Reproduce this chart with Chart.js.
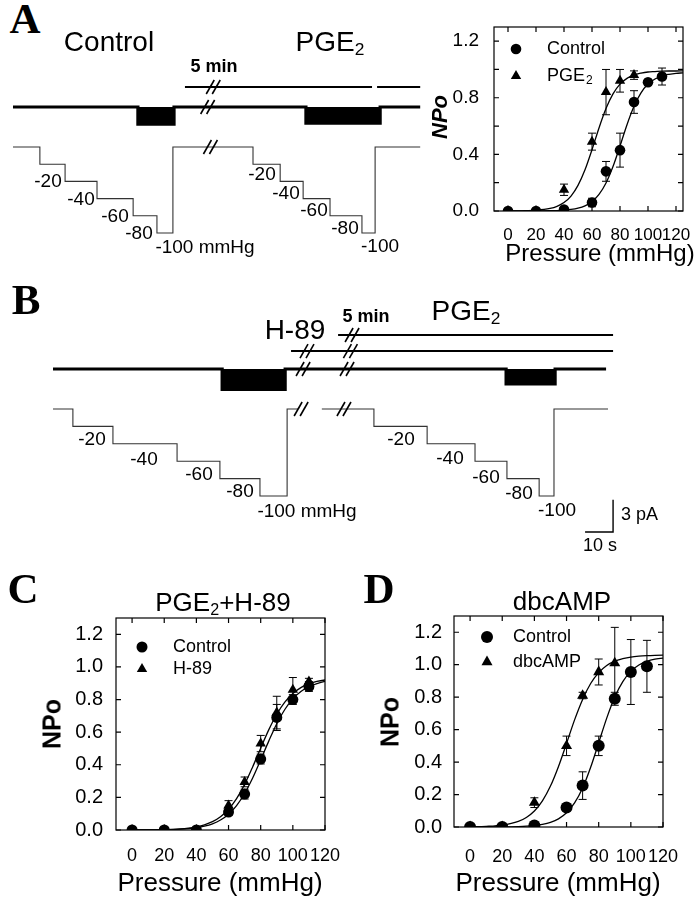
<!DOCTYPE html>
<html>
<head>
<meta charset="utf-8">
<script src="https://cdn.jsdelivr.net/npm/chart.js@4.4.1/dist/chart.umd.min.js"></script>
<style>
  html, body { margin: 0; padding: 0; background: #fff; }
  #fig { position: relative; width: 694px; height: 899px; overflow: hidden;
         font-family: 'Liberation Sans', Arial, sans-serif; color: #000; }
  canvas { position: absolute; }
  .t { position: absolute; white-space: nowrap; line-height: 1; transform: translate(-50%, -50%); }
  .t.left { transform: translate(0, -50%); }
  .t.rot { transform: translate(-50%, -50%) rotate(-90deg); }
  .letter { font-family: 'Liberation Serif', 'Times New Roman', serif; font-weight: bold; }
  sub { font-size: 0.62em; vertical-align: -0.25em; line-height: 0; }
</style>
</head>
<body>
<div id="fig">
  <canvas id="traceA" width="430" height="210" style="left:0;top:50px"></canvas>
  <canvas id="traceB" width="694" height="220" style="left:0;top:320px"></canvas>
  <canvas id="chartA" width="274" height="260" style="left:420px;top:20px"></canvas>
  <canvas id="chartC" width="350" height="339" style="left:0;top:560px"></canvas>
  <canvas id="chartD" width="344" height="339" style="left:350px;top:560px"></canvas>
</div>
<script>
// ---- NPo vs pressure data ----
const pressures = [0, 20, 40, 60, 70, 80, 90, 100, 110];
// points where the fitted curves were sampled
const fitPressures = [0, 10, 20, 30, 35, 40, 45, 50, 55, 60, 65, 70, 75, 80, 85, 90, 95, 100, 105, 110, 115, 120, 125];

// panel A: control vs PGE2
const aControl = [0, 0, 0.01, 0.06, 0.28, 0.43, 0.77, 0.91, 0.95];
const aControlErr = [0, 0, 0, 0.03, 0.07, 0.12, 0.08, 0.02, 0.06];
const aPge2 = [0, 0, 0.15, 0.49, 0.84, 0.92, 0.96];
const aPge2Err = [0, 0, 0.04, 0.06, 0.16, 0.08, 0.03];
const aControlFit = [0, 0.0001, 0.0005, 0.0017, 0.0031, 0.0058, 0.0108, 0.0199, 0.0366, 0.066, 0.117, 0.198, 0.314, 0.459, 0.610, 0.740, 0.835, 0.897, 0.933, 0.955, 0.966, 0.973, 0.976];
const aPge2Fit = [0.0004, 0.0015, 0.0052, 0.0178, 0.0328, 0.0595, 0.1057, 0.181, 0.291, 0.433, 0.587, 0.724, 0.827, 0.896, 0.937, 0.961, 0.974, 0.982, 0.985, 0.988, 0.989, 0.989, 0.990];

// panel C: control vs H-89
const cControl = [0, 0, 0, 0.11, 0.22, 0.435, 0.69, 0.80, 0.88];
const cControlErr = [0, 0, 0, 0.02, 0.03, 0.03, 0.08, 0.03, 0.03];
const cH89 = [0, 0, 0, 0.15, 0.295, 0.53, 0.72, 0.86, 0.91];
const cH89Err = [0, 0, 0, 0.03, 0.03, 0.05, 0.10, 0.075, 0.02];
const cControlFit = [0.0003, 0.0007, 0.002, 0.0054, 0.0088, 0.0144, 0.0235, 0.038, 0.0614, 0.097, 0.150, 0.224, 0.319, 0.430, 0.545, 0.652, 0.739, 0.804, 0.849, 0.879, 0.898, 0.911, 0.918];
const cH89Fit = [0.0004, 0.001, 0.0027, 0.0073, 0.0119, 0.0195, 0.0317, 0.0511, 0.0814, 0.127, 0.192, 0.280, 0.387, 0.502, 0.614, 0.710, 0.784, 0.837, 0.873, 0.897, 0.911, 0.920, 0.926];

// panel D: control vs dbcAMP
const dControl = [0, 0, 0.01, 0.12, 0.255, 0.50, 0.79, 0.955, 0.99];
const dControlErr = [0, 0, 0, 0.02, 0.085, 0.06, 0.04, 0.2, 0.16];
const dDbcamp = [0, 0, 0.15, 0.50, 0.81, 0.955, 1.01];
const dDbcampErr = [0, 0, 0.03, 0.06, 0.02, 0.08, 0.22];
const dControlFit = [0.0001, 0.0002, 0.0008, 0.0027, 0.0048, 0.0087, 0.0157, 0.028, 0.0498, 0.0875, 0.148, 0.240, 0.368, 0.519, 0.671, 0.801, 0.896, 0.959, 0.998, 1.021, 1.034, 1.041, 1.045];
const dDbcampFit = [0.0013, 0.0039, 0.0116, 0.0346, 0.0589, 0.0986, 0.161, 0.252, 0.373, 0.515, 0.660, 0.786, 0.884, 0.951, 0.995, 1.022, 1.037, 1.047, 1.0525, 1.0557, 1.0576, 1.0587, 1.0593];

// ---- single channel traces (time s, current pA, pressure mmHg) ----
const aPressTimes = [0, 9.6, 18.6, 30, 42.9, 51.4, 57.1, 85.7, 95.4, 103.6, 113.2, 124.6, 129.3, 145.4];
const aPressLevels = [0, -20, -40, -60, -80, -100, 0, -20, -40, -60, -80, -100, 0, 0];
const aCurTimes = [0, 44.6, 57.5, 104.6, 131.1, 145.4];
const aCurLevels = [0, -1.6, 0, -1.5, 0, 0];
const aPgeBar = [[61.4, 128.2], [130, 145.4]];
const aBarLevel = 1.87;
const aBreakTime = 70;

const bPressTimes1 = [0, 7.1, 21.4, 44.3, 59.6, 73.9, 83.6, 87.5];
const bPressTimes2 = [96, 114.6, 133.6, 150.7, 162.1, 173.6, 178.9, 198.2];
const bPressLevels = [0, -20, -40, -60, -80, -100, 0, 0];
const bCurTimes = [0, 60.4, 82.9, 161.8, 179.3, 197.5];
const bCurLevels = [0, -1.9, 0, -1.4, 0, 0];
const bH89Bar = [85, 200];
const bPgeBar = [101.8, 200];
const bH89Level = 1.68, bPgeLevel = 3.18;   // heights of drug bars above the trace
const scaleBarTimes = [190, 200, 200];
const scaleBarCurrents = [-15.23, -15.23, -12.23];

const pts = (xs, ys) => ys.map((y, i) => ({ x: xs[i], y: y }));

Chart.defaults.font.family = "'Liberation Sans', Arial, sans-serif";
Chart.defaults.color = '#000';

// ---- plugins ----
const frame = {
    id: 'frame',
    beforeDatasetsDraw(chart) {
        const { ctx, chartArea: a, scales: { x, y } } = chart;
        const len = 5;
        ctx.save();
        ctx.strokeStyle = '#000';
        ctx.lineWidth = 1.2;
        ctx.strokeRect(a.left, a.top, a.right - a.left, a.bottom - a.top);
        ctx.beginPath();
        x.ticks.forEach(t => {
            const px = x.getPixelForValue(t.value);
            ctx.moveTo(px, a.bottom); ctx.lineTo(px, a.bottom - len);
            ctx.moveTo(px, a.top); ctx.lineTo(px, a.top + len);
        });
        y.ticks.forEach(t => {
            const py = y.getPixelForValue(t.value);
            ctx.moveTo(a.left, py); ctx.lineTo(a.left + len, py);
            ctx.moveTo(a.right, py); ctx.lineTo(a.right - len, py);
        });
        ctx.stroke();
        ctx.restore();
    }
};

const errorBars = {
    id: 'errorBars',
    afterDatasetsDraw(chart) {
        const { ctx, scales: { x, y } } = chart;
        ctx.save();
        ctx.strokeStyle = '#000';
        ctx.lineWidth = 1;
        chart.data.datasets.forEach(ds => {
            if (!ds.errors) return;
            ds.data.forEach((p, i) => {
                const e = ds.errors[i];
                if (!e) return;
                const px = x.getPixelForValue(p.x);
                const top = y.getPixelForValue(p.y + e);
                const bot = y.getPixelForValue(p.y - e);
                ctx.beginPath();
                ctx.moveTo(px, top); ctx.lineTo(px, bot);
                ctx.moveTo(px - 4, top); ctx.lineTo(px + 4, top);
                ctx.moveTo(px - 4, bot); ctx.lineTo(px + 4, bot);
                ctx.stroke();
            });
        });
        ctx.restore();
    }
};

function drawMarker(ctx, style, r, x, y) {
    ctx.beginPath();
    if (style === 'triangle') {
        const edge = 3 * r / Math.sqrt(3);
        const h = edge * Math.sqrt(3) / 2;
        ctx.moveTo(x - edge / 2, y + h / 3);
        ctx.lineTo(x + edge / 2, y + h / 3);
        ctx.lineTo(x, y - 2 * h / 3);
        ctx.closePath();
    } else {
        ctx.arc(x, y, r, 0, Math.PI * 2);
    }
    ctx.fill();
}

const insideLegend = {
    id: 'insideLegend',
    afterDraw(chart, args, o) {
        const { ctx, chartArea: a } = chart;
        ctx.save();
        ctx.fillStyle = '#000';
        ctx.textBaseline = 'middle';
        chart.data.datasets.slice(0, 2).forEach((ds, i) => {
            const my = a.top + o.dy + i * o.gap;
            drawMarker(ctx, ds.pointStyle, ds.pointRadius, a.left + o.dx, my);
            ctx.font = "18px 'Liberation Sans', Arial, sans-serif";
            ctx.fillText(ds.label, a.left + o.tx, my);
            if (ds.labelSub) {
                const w = ctx.measureText(ds.label).width;
                ctx.font = "12px 'Liberation Sans', Arial, sans-serif";
                ctx.fillText(ds.labelSub, a.left + o.tx + w + 1, my + 5);
            }
        });
        ctx.restore();
    }
};

const breakMarks = {
    id: 'breakMarks',
    afterDatasetsDraw(chart, args, o) {
        const { ctx, scales } = chart;
        ctx.save();
        ctx.strokeStyle = '#000';
        ctx.lineWidth = 1.6;
        (o.marks || []).forEach(m => {
            const px = scales.x.getPixelForValue(m.t);
            const py = scales[m.axis].getPixelForValue(m.v);
            [-3, 3].forEach(off => {
                ctx.beginPath();
                ctx.moveTo(px + off - 4, py + 7);
                ctx.lineTo(px + off + 4, py - 7);
                ctx.stroke();
            });
        });
        ctx.restore();
    }
};

// ---- NPo charts ----
function npoChart(id, c) {
    const ctx = document.getElementById(id).getContext('2d');
    new Chart(ctx, {
        type: 'scatter',
        data: {
            datasets: [{
                label: 'Control',
                data: pts(pressures, c.ctrl),
                errors: c.ctrlErr,
                pointStyle: 'circle',
                pointRadius: c.r,
                backgroundColor: '#000',
                borderColor: '#000',
                borderWidth: 0,
                order: 0
            }, {
                label: c.treatName,
                labelSub: c.treatSub,
                data: pts(pressures, c.treat),
                errors: c.treatErr,
                pointStyle: 'triangle',
                pointRadius: c.tr,
                backgroundColor: '#000',
                borderColor: '#000',
                borderWidth: 0,
                order: 1
            }, {
                data: pts(fitPressures, c.ctrlFit),
                showLine: true,
                pointRadius: 0,
                borderColor: '#000',
                borderWidth: 1.3,
                cubicInterpolationMode: 'monotone',
                order: 2
            }, {
                data: pts(fitPressures, c.treatFit),
                showLine: true,
                pointRadius: 0,
                borderColor: '#000',
                borderWidth: 1.3,
                cubicInterpolationMode: 'monotone',
                order: 3
            }]
        },
        options: {
            responsive: false,
            devicePixelRatio: 1,
            animation: false,
            events: [],
            layout: { padding: { top: c.padTop, right: c.padRight, left: 0, bottom: 0 } },
            plugins: {
                legend: { display: false },
                tooltip: { enabled: false },
                insideLegend: c.legend
            },
            scales: {
                x: {
                    type: 'linear',
                    min: -10,
                    max: c.xMax,
                    grid: { display: false },
                    border: { display: false },
                    ticks: {
                        stepSize: 20,
                        autoSkip: false,
                        maxRotation: 0,
                        includeBounds: false,
                        padding: c.xPad,
                        font: { size: c.xFont }
                    },
                    afterFit(s) { s.height = c.xHeight; s.paddingLeft = 0; s.paddingRight = 0; }
                },
                y: {
                    type: 'linear',
                    min: 0,
                    max: 1.3,
                    grid: { display: false },
                    border: { display: false },
                    ticks: {
                        stepSize: 0.2,
                        includeBounds: false,
                        padding: c.yPad,
                        font: { size: c.yFont },
                        callback: v => (Math.round(v * 10) % c.labelEvery === 0 ? v.toFixed(1) : '')
                    },
                    afterFit(s) { s.width = c.yWidth; s.paddingTop = 0; s.paddingBottom = 0; }
                }
            }
        },
        plugins: [frame, errorBars, insideLegend]
    });
}

npoChart('chartA', {
    ctrl: aControl, ctrlErr: aControlErr, treat: aPge2, treatErr: aPge2Err,
    ctrlFit: aControlFit, treatFit: aPge2Fit, treatName: 'PGE', treatSub: '2',
    r: 5.3, tr: 6, xMax: 125, padTop: 7, padRight: 11, xHeight: 69, yWidth: 74,
    xPad: 6, yPad: 7, xFont: 17, yFont: 19, labelEvery: 4,
    legend: { dx: 22, dy: 22, gap: 27, tx: 53 }
});
npoChart('chartC', {
    ctrl: cControl, ctrlErr: cControlErr, treat: cH89, treatErr: cH89Err,
    ctrlFit: cControlFit, treatFit: cH89Fit, treatName: 'H-89',
    r: 5.5, tr: 6, xMax: 120, padTop: 58, padRight: 25, xHeight: 69, yWidth: 116,
    xPad: 7, yPad: 5, xFont: 18, yFont: 20, labelEvery: 2,
    legend: { dx: 26, dy: 29, gap: 22, tx: 57 }
});
npoChart('chartD', {
    ctrl: dControl, ctrlErr: dControlErr, treat: dDbcamp, treatErr: dDbcampErr,
    ctrlFit: dControlFit, treatFit: dDbcampFit, treatName: 'dbcAMP',
    r: 6, tr: 6.4, xMax: 120, padTop: 56, padRight: 31, xHeight: 72, yWidth: 104,
    xPad: 11, yPad: 4, xFont: 18, yFont: 20, labelEvery: 2,
    legend: { dx: 33, dy: 21, gap: 25, tx: 59 }
});

// ---- trace charts ----
function line(data, axis, width, extra) {
    return Object.assign({
        data: data, yAxisID: axis, showLine: true, pointRadius: 0,
        borderColor: '#000', borderWidth: width, fill: false
    }, extra || {});
}

function traceChart(id, datasets, s, marks) {
    new Chart(document.getElementById(id).getContext('2d'), {
        type: 'scatter',
        data: { datasets: datasets },
        options: {
            responsive: false,
            devicePixelRatio: 1,
            animation: false,
            events: [],
            layout: { padding: 0 },
            plugins: { legend: { display: false }, tooltip: { enabled: false }, breakMarks: { marks: marks } },
            scales: {
                x: { type: 'linear', display: false, min: s.x[0], max: s.x[1] },
                yI: { type: 'linear', axis: 'y', display: false, min: s.i[0], max: s.i[1] },
                yP: { type: 'linear', axis: 'y', display: false, min: s.p[0], max: s.p[1] }
            }
        },
        plugins: [breakMarks]
    });
}

traceChart('traceA', [
    line(aPgeBar[0].map(t => ({ x: t, y: aBarLevel })), 'yI', 2),
    line(aPgeBar[1].map(t => ({ x: t, y: aBarLevel })), 'yI', 2),
    line(pts(aCurTimes, aCurLevels), 'yI', 3.2, { stepped: true, fill: 'origin', backgroundColor: '#000' }),
    line(pts(aPressTimes, aPressLevels), 'yP', 1.1, { stepped: true, borderColor: '#333' })
], { x: [-4.64, 148.9], i: [-14.3, 5.33], p: [-131.4, 112.8] }, [
    { t: aBreakTime + 1.5, v: aBarLevel, axis: 'yI' },
    { t: aBreakTime - 0.5, v: 0, axis: 'yI' },
    { t: aBreakTime + 0.5, v: 0, axis: 'yP' }
]);

traceChart('traceB', [
    line(bPgeBar.map(t => ({ x: t, y: bPgeLevel })), 'yI', 2),
    line(bH89Bar.map(t => ({ x: t, y: bH89Level })), 'yI', 2),
    line(pts(bCurTimes, bCurLevels), 'yI', 3.2, { stepped: true, fill: 'origin', backgroundColor: '#000' }),
    line(pts(bPressTimes1, bPressLevels), 'yP', 1.1, { stepped: true, borderColor: '#333' }),
    line(pts(bPressTimes2, bPressLevels), 'yP', 1.1, { stepped: true, borderColor: '#333' }),
    line(pts(scaleBarTimes, scaleBarCurrents), 'yI', 1.4)
], { x: [-18.93, 228.9], i: [-15.98, 4.58], p: [-150.6, 102.3] }, [
    { t: 106.8, v: bPgeLevel, axis: 'yI' },
    { t: 90.7, v: bH89Level, axis: 'yI' },
    { t: 106.2, v: bH89Level, axis: 'yI' },
    { t: 89.3, v: 0, axis: 'yI' },
    { t: 105, v: 0, axis: 'yI' },
    { t: 88.6, v: 0, axis: 'yP' },
    { t: 103.9, v: 0, axis: 'yP' }
]);

// ---- text ----
const fig = document.getElementById('fig');
function put(html, x, y, size, cls, style) {
    const d = document.createElement('div');
    d.className = 't ' + (cls || '');
    d.innerHTML = html;
    d.style.left = x + 'px';
    d.style.top = y + 'px';
    d.style.fontSize = size + 'px';
    if (style) d.style.cssText += style;
    fig.appendChild(d);
}

put('A', 25, 18, 43, 'letter');
put('B', 26, 299, 43, 'letter');
put('C', 23, 588, 43, 'letter');
put('D', 379, 588, 43, 'letter');

put('Control', 109, 42, 28);
put('PGE<sub>2</sub>', 330, 42, 28);
put('5 min', 214, 66, 18, '', 'font-weight:bold');
[['-20', 48, 180], ['-40', 81, 198], ['-60', 115, 215], ['-80', 139, 232], ['-100 mmHg', 205, 246],
 ['-20', 262, 173], ['-40', 286, 192], ['-60', 314, 209], ['-80', 345, 227], ['-100', 380, 245]]
    .forEach(l => put(l[0], l[1], l[2], 19));

put('H-89', 295, 330, 28);
put('5 min', 366, 316, 18, '', 'font-weight:bold');
put('PGE<sub>2</sub>', 466, 311, 28);
[['-20', 92, 438], ['-40', 144, 458], ['-60', 199, 473], ['-80', 240, 490], ['-100 mmHg', 307, 510],
 ['-20', 401, 438], ['-40', 450, 457], ['-60', 486, 476], ['-80', 519, 492], ['-100', 557, 509]]
    .forEach(l => put(l[0], l[1], l[2], 19));
put('3 pA', 621, 514, 18, 'left');
put('10 s', 600, 545, 18);

put('NPo', 440, 117, 22, 'rot', 'font-weight:bold;font-style:italic');
put('Pressure (mmHg)', 600, 253, 24);

put('PGE<sub>2</sub>+H-89', 223, 602, 26);
put('NPo', 52, 724, 25, 'rot', 'font-weight:bold');
put('Pressure (mmHg)', 220, 882, 26);

put('dbcAMP', 562, 601, 26);
put('NPo', 390, 722, 25, 'rot', 'font-weight:bold');
put('Pressure (mmHg)', 558, 882, 26);
</script>
</body>
</html>
